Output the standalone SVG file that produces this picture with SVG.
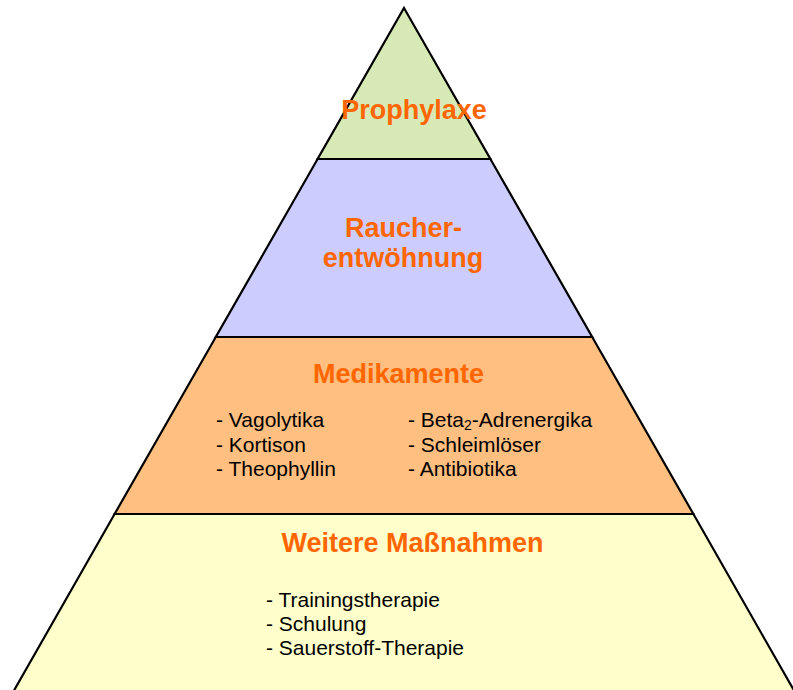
<svg xmlns="http://www.w3.org/2000/svg" width="793" height="690" viewBox="0 0 793 690">
<style>
.layer{stroke:#000;stroke-width:2.2;stroke-linejoin:miter}
.title{font-family:"Liberation Sans",Arial,sans-serif;font-weight:bold;font-size:27px;fill:#FF6600;text-anchor:middle}
.item{font-family:"Liberation Sans",Arial,sans-serif;font-size:21px;fill:#000}
</style>
<rect width="793" height="690" fill="#fff"/>
<g id="weitere">
<polygon class="layer" points="114.6,514 693.4,514 796,694 12,694" fill="#FFFFCC"/>
<text class="title" x="412.5" y="552">Weitere Maßnahmen</text>
<text class="item" x="266" y="607">- Trainingstherapie</text>
<text class="item" x="266" y="631">- Schulung</text>
<text class="item" x="266" y="655">- Sauerstoff-Therapie</text>
</g>
<g id="medikamente">
<polygon class="layer" points="215.8,337 592.2,337 693.4,514 114.6,514" fill="#FFBF80"/>
<text class="title" x="398.5" y="383">Medikamente</text>
<text class="item" x="216" y="427">- Vagolytika</text>
<text class="item" x="216" y="452">- Kortison</text>
<text class="item" x="216" y="476">- Theophyllin</text>
<text class="item" x="408" y="427">- Beta<tspan font-size="14" dy="3">2</tspan><tspan dy="-3">-Adrenergika</tspan></text>
<text class="item" x="408" y="452">- Schleimlöser</text>
<text class="item" x="408" y="476">- Antibiotika</text>
</g>
<g id="raucher">
<polygon class="layer" points="317.6,159 490.4,159 592.2,337 215.8,337" fill="#CCCCFF"/>
<text class="title" x="403.5" y="237">Raucher-</text>
<text class="title" x="403" y="267">entwöhnung</text>
</g>
<g id="prophylaxe">
<polygon class="layer" points="404,8 490.4,159 317.6,159" fill="#D7EAB6"/>
<text class="title" x="414" y="119">Prophylaxe</text>
</g>
<g id="connectors"/>
</svg>
